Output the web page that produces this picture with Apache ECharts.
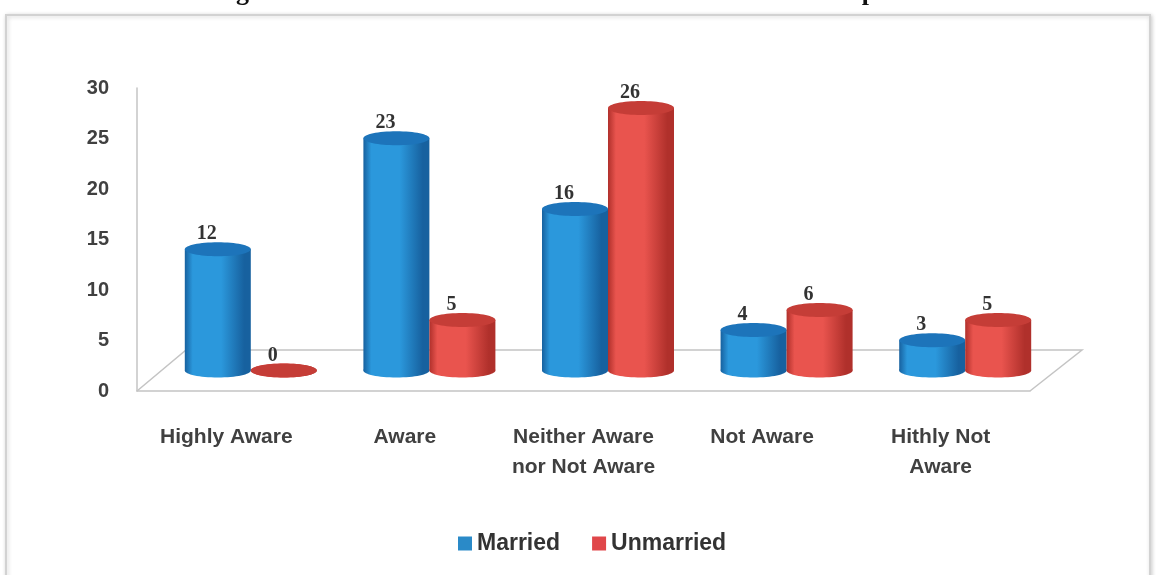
<!DOCTYPE html>
<html>
<head>
<meta charset="utf-8">
<script src="https://cdn.jsdelivr.net/npm/echarts@6/dist/echarts.min.js"></script>
<style>
  html, body { margin: 0; padding: 0; background: #ffffff; }
  #chart { width: 1156px; height: 575px; }
</style>
</head>
<body>
<div id="chart"></div>
<script>
// Awareness level by marital status
const categories = ['Highly Aware', 'Aware', 'Neither Aware\nnor Not Aware', 'Not Aware', 'Hithly Not\nAware'];
const married = [12, 23, 16, 4, 3];
const unmarried = [0, 5, 26, 6, 5];
const yTicks = { min: 0, max: 30, interval: 5 };

// pseudo-3D look: floor depth and cylinder geometry
const DEPTH_X = 49;
const DEPTH_Y = 41;
const BAR_W = 66;
const RY = 7;

const SANS = '"Liberation Sans", Arial, sans-serif';
const SERIF = '"Liberation Serif", "Times New Roman", serif';

const palette = {
  Married: { edge: '#17619f', mid: '#2b98dc', top: '#1d74ba', legend: '#2a8ac8' },
  Unmarried: { edge: '#b0302b', mid: '#e9544e', top: '#c53d37', legend: '#e0474a' }
};

function bodyFill(c) {
  return new echarts.graphic.LinearGradient(0, 0, 1, 0, [
    { offset: 0, color: c.edge },
    { offset: 0.12, color: c.mid },
    { offset: 0.55, color: c.mid },
    { offset: 0.9, color: c.edge },
    { offset: 1, color: c.edge }
  ]);
}

function cylinderRenderer(side, c) {
  return function (params, api) {
    const idx = api.value(0);
    const v = api.value(1);
    const base = api.coord([idx, 0]);
    const top = api.coord([idx, v]);
    const rx = BAR_W / 2;
    const cx = base[0] + side * rx + DEPTH_X / 2;
    const by = base[1] - DEPTH_Y / 2;
    const ty = top[1] - DEPTH_Y / 2;
    const fill = bodyFill(c);
    return {
      type: 'group',
      children: [
        { type: 'ellipse', shape: { cx: cx, cy: by, rx: rx, ry: RY }, style: { fill: fill } },
        { type: 'rect', shape: { x: cx - rx, y: ty, width: BAR_W, height: by - ty }, style: { fill: fill } },
        { type: 'ellipse', shape: { cx: cx, cy: ty, rx: rx, ry: RY }, style: { fill: c.top } },
        {
          type: 'text',
          x: cx - 11, y: ty - 15,
          style: {
            text: String(v), fill: '#333333', font: 'bold 20px ' + SERIF,
            align: 'center', verticalAlign: 'middle'
          }
        }
      ]
    };
  };
}

// floor outline drawn from the grid rectangle
function floorRenderer(params, api) {
  const r = params.coordSys;
  const fx0 = r.x, fx1 = r.x + r.width, fy = r.y + r.height;
  return {
    type: 'polyline',
    shape: {
      points: [
        [fx0, fy], [fx0 + DEPTH_X, fy - DEPTH_Y],
        [fx1 + DEPTH_X + 3, fy - DEPTH_Y], [fx1, fy]
      ]
    },
    style: { stroke: '#c4c4c4', lineWidth: 1.5, fill: null }
  };
}

const chart = echarts.init(document.getElementById('chart'), null, { renderer: 'canvas' });

chart.setOption({
  backgroundColor: '#ffffff',
  animation: false,
  graphic: [
    {
      type: 'rect', z: -10,
      shape: { x: 6, y: 15, width: 1144, height: 580 },
      style: {
        fill: '#ffffff', stroke: '#d2d2d2', lineWidth: 2,
        shadowColor: 'rgba(0,0,0,0.18)', shadowBlur: 4, shadowOffsetX: 1, shadowOffsetY: 1
      }
    },
    {
      type: 'text', x: 213, y: -7, z: 10,
      style: {
        text: 'Figure 3: Marital status wise Awareness about health care product',
        font: 'bold 26px ' + SERIF, fill: '#111111', verticalAlign: 'middle'
      }
    }
  ],
  legend: {
    data: ['Married', 'Unmarried'],
    left: 453, top: 527,
    icon: 'rect', itemWidth: 14, itemHeight: 14, itemGap: 32,
    textStyle: { fontFamily: SANS, fontSize: 23, fontWeight: 'bold', color: '#333333' }
  },
  grid: { left: 137, right: 126, top: 88, bottom: 184 },
  xAxis: {
    type: 'category',
    data: categories,
    axisLine: { show: true, lineStyle: { color: '#c4c4c4', width: 1.5 } },
    axisTick: { show: false },
    axisLabel: {
      interval: 0, margin: 31, lineHeight: 30,
      fontFamily: SANS, fontSize: 21, fontWeight: 'bold', color: '#404040'
    }
  },
  yAxis: {
    type: 'value',
    min: yTicks.min, max: yTicks.max, interval: yTicks.interval,
    axisLine: { show: true, lineStyle: { color: '#c4c4c4', width: 1.5 } },
    axisTick: { show: false },
    splitLine: { show: false },
    axisLabel: { margin: 28, fontFamily: SANS, fontSize: 20, fontWeight: 'bold', color: '#404040' }
  },
  series: [
    {
      type: 'custom', name: 'floor', silent: true, z: 1,
      renderItem: floorRenderer,
      data: [[0, 0]]
    },
    {
      type: 'custom', name: 'Married', z: 3,
      itemStyle: { color: palette.Married.legend },
      renderItem: cylinderRenderer(-1, palette.Married),
      encode: { x: 0, y: 1 },
      data: married.map((v, i) => [i, v])
    },
    {
      type: 'custom', name: 'Unmarried', z: 4,
      itemStyle: { color: palette.Unmarried.legend },
      renderItem: cylinderRenderer(1, palette.Unmarried),
      encode: { x: 0, y: 1 },
      data: unmarried.map((v, i) => [i, v])
    }
  ]
});
</script>
</body>
</html>
